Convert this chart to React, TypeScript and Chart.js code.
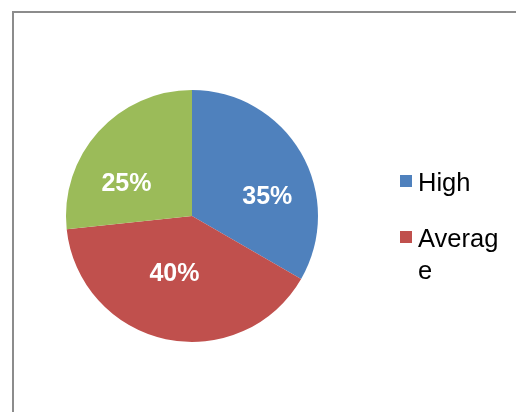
import React, { useEffect, useRef } from "react";
import { Chart, registerables } from "chart.js";

Chart.register(...registerables);

// ---- data ----
const categories: string[] = ["High", "Average", "Low"];
const legendShown: string[] = ["High", "Average"];
const sliceValues: number[] = [10, 12, 8];
const percentLabels: string[] = ["35%", "40%", "25%"];
const sliceColors: string[] = ["#4F81BD", "#C0504D", "#9BBB59"];

// ---- label placement styling (angle shift in degrees, radius fraction) ----
const labelAngleShift: number[] = [14.5, 5.4, -14.6];
const labelRadiusFrac: number[] = [0.62, 0.466, 0.586];

const FONT = "'Liberation Sans', Arial, sans-serif";

const framePlugin = {
  id: "frame",
  beforeDraw(chart: any) {
    const ctx = chart.ctx;
    const { width, height } = chart;
    ctx.save();
    ctx.fillStyle = "#ffffff";
    ctx.fillRect(0, 0, width, height);
    ctx.strokeStyle = "#8c8c8c";
    ctx.lineWidth = 2;
    ctx.beginPath();
    ctx.moveTo(13, height);
    ctx.lineTo(13, 12);
    ctx.lineTo(width, 12);
    ctx.stroke();
    ctx.restore();
  },
};

const labelPlugin = {
  id: "sliceLabels",
  afterDatasetsDraw(chart: any) {
    const ctx = chart.ctx;
    const meta = chart.getDatasetMeta(0);
    const size = 25;
    ctx.save();
    ctx.font = `bold ${size}px ${FONT}`;
    ctx.fillStyle = "#ffffff";
    ctx.textAlign = "center";
    ctx.textBaseline = "alphabetic";
    meta.data.forEach((arc: any, i: number) => {
      const p = arc.getProps(["x", "y", "startAngle", "endAngle", "outerRadius"], true);
      const mid = (p.startAngle + p.endAngle) / 2 + (labelAngleShift[i] * Math.PI) / 180;
      const r = p.outerRadius * labelRadiusFrac[i];
      const x = p.x + Math.cos(mid) * r;
      const y = p.y + Math.sin(mid) * r;
      ctx.fillText(percentLabels[i], x, y + size * 0.358);
    });
    ctx.restore();
  },
};

const legendPlugin = {
  id: "wrapLegend",
  afterDraw(chart: any) {
    const ctx = chart.ctx;
    const size = 25.5;
    const boxX = 400;
    const boxSize = 12;
    const textX = 418;
    const maxWidth = 84;
    const lineHeight = 32;
    const itemGap = 56;
    let baseline = 191;
    ctx.save();
    ctx.font = `${size}px ${FONT}`;
    ctx.textAlign = "left";
    ctx.textBaseline = "alphabetic";
    legendShown.forEach((label, i) => {
      // wrap by characters
      const lines: string[] = [];
      let cur = "";
      for (const ch of label) {
        if (cur && ctx.measureText(cur + ch).width > maxWidth) {
          lines.push(cur);
          cur = ch;
        } else cur += ch;
      }
      if (cur) lines.push(cur);
      ctx.fillStyle = sliceColors[categories.indexOf(label)];
      ctx.fillRect(boxX, baseline - 16, boxSize, boxSize);
      ctx.fillStyle = "#000000";
      lines.forEach((ln, j) => {
        ctx.fillText(ln, textX, baseline + j * lineHeight);
      });
      baseline += (lines.length - 1) * lineHeight + itemGap;
    });
    ctx.restore();
  },
};

export default function App() {
  const ref = useRef<HTMLCanvasElement | null>(null);
  useEffect(() => {
    if (!ref.current) return;
    const chart = new Chart(ref.current, {
      type: "pie",
      data: {
        labels: categories,
        datasets: [
          {
            data: sliceValues,
            backgroundColor: sliceColors,
            borderWidth: 0,
            hoverOffset: 0,
            offset: 0,
          },
        ],
      },
      options: {
        responsive: false,
        animation: false,
        devicePixelRatio: 1,
        radius: 126,
        layout: { padding: { left: 66, right: 198, top: 90, bottom: 70 } },
        plugins: {
          legend: { display: false },
          tooltip: { enabled: false },
        },
        events: [],
      } as any,
      plugins: [framePlugin, labelPlugin, legendPlugin],
    });
    return () => chart.destroy();
  }, []);
  return (
    <div style={{ position: "fixed", left: 0, top: 0, width: 516, height: 412, background: "#fff" }}>
      <canvas ref={ref} width={516} height={412} style={{ display: "block" }} />
    </div>
  );
}
